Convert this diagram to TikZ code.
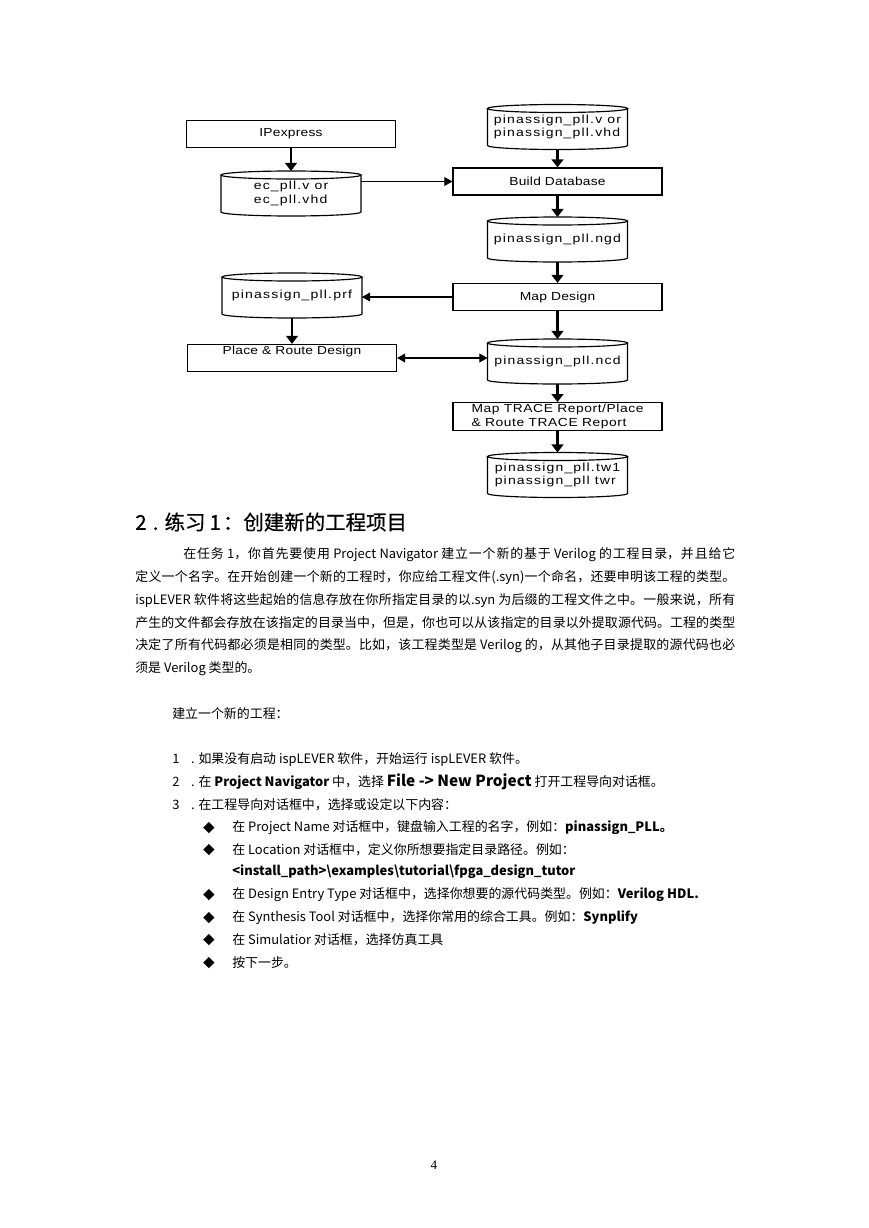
\documentclass[tikz,border=0pt]{standalone}
\usepackage{fontspec}
\setmainfont{Noto Sans CJK SC}
\newfontfamily\headfont{Noto Sans CJK SC}[FakeBold=0.6]
\newfontfamily\diagfont{Liberation Sans}[FakeStretch=1.18, LetterSpace=2]
\newfontfamily\diagmid{Liberation Sans}[FakeStretch=1.18, LetterSpace=5]
\newfontfamily\diagwide{Liberation Sans}[FakeStretch=1.2, LetterSpace=10]
\newfontfamily\pagefont{Liberation Serif}
\usetikzlibrary{arrows.meta, calc}
\newcommand{\pxu}{0.6847pt}
\newcommand{\cylrx}{47.93pt}
\newcommand{\cylry}{2.74pt}

\begin{document}
\begin{tikzpicture}[x=\pxu, y=-\pxu,
    box/.style={draw, line width=0.8pt, minimum width=209*\pxu, minimum height=27*\pxu, inner sep=1pt,
        font=\diagfont\fontsize{8}{10}\selectfont},
    cyl/.style={minimum width=140*\pxu, minimum height=45*\pxu, inner sep=1pt, outer sep=0pt, align=left,
        font=\diagwide\fontsize{8}{9.5}\selectfont},
    flow/.style={->, line width=1.6pt, >={Triangle[length=5.5pt,width=8pt]}},
    link/.style={line width=0.7pt, >={Triangle[length=5.5pt,width=6pt]}},
    head/.style={anchor=west, inner sep=0pt, font=\headfont\fontsize{14}{16}\selectfont},
    body/.style={anchor=west, inner sep=0pt, font=\fontsize{8.85}{15.7}\selectfont},
    bul/.style={inner sep=0pt, font=\fontsize{8}{10}\selectfont}]
    \useasboundingbox (0,0) rectangle (869,1228);

    % flow chart
    \node[box] (ipx) at (291,134) {IPexpress};
    \node[cyl] (vsrc) at (557.5,127) {pinassign\_pll.v or\\pinassign\_pll.vhd};
    \node[cyl] (ecpll) at (291,193.5) {ec\_pll.v or\\ec\_pll.vhd};
    \node[box] (bdb) at (557.5,181.5) {Build Database};
    \node[cyl] (ngd) at (557.5,239.5) {pinassign\_pll.ngd};
    \node[box] (map) at (557.5,297) {Map Design};
    \node[cyl] (prf) at (292,295.5) {pinassign\_pll.prf};
    \node[box, text depth=10pt] (pnr) at (292,358) {Place \& Route Design};
    \node[cyl] (ncd) at (557.5,361.5) {pinassign\_pll.ncd};
    \node[box, align=left, font=\diagmid\fontsize{8}{9.5}\selectfont] (trace) at (557.5,416.5) {Map TRACE Report/Place\\\& Route TRACE Report};
    \node[cyl] (twr) at (557.5,475) {pinassign\_pll.tw1\\pinassign\_pll twr};

    \foreach \n in {vsrc,ecpll,ngd,prf,ncd,twr} {
        \draw[line width=0.8pt] ([yshift=-\cylry]\n.north west) -- ([yshift=\cylry]\n.south west)
            arc[start angle=180, end angle=360, x radius=\cylrx, y radius=\cylry] -- ([yshift=-\cylry]\n.north east);
        \draw[line width=0.8pt] ([yshift=-\cylry]\n.north) ellipse[x radius=\cylrx, y radius=\cylry];
    }

    \draw[flow]
    (ipx) edge (ecpll)
    (vsrc) edge (bdb)
    (bdb) edge (ngd)
    (ngd) edge (map)
    (map) edge (ncd)
    (prf) edge (pnr)
    (ncd) edge (trace)
    (trace) edge (twr);
    \draw[link, ->] (bdb.west -| ecpll.east) -- (bdb.west);
    \draw[link, ->] (map.west) -- (map.west -| prf.east);
    \draw[link, <->] (pnr.east) -- (pnr.east -| ncd.west);

    % text
    \node[head] (title) at (135,522) {2\hspace{0.3em}.\hspace{0.3em}练习\hspace{0.2em}1\hspace{0.1em}：创建新的工程项目};
    \node[body, anchor=north west, text width=410.8pt, align=justify] (para) at (135,547) {\XeTeXlinebreaklocale "zh"\XeTeXlinebreakskip=0pt plus 2pt\hspace*{32.9pt}在任务 1，你首先要使用 Project Navigator 建立一个新的基于 Verilog 的工程目录，并且给它\linebreak
定义一个名字。在开始创建一个新的工程时，你应给工程文件(.syn)一个命名，还要申明该工程的类型。\linebreak
ispLEVER 软件将这些起始的信息存放在你所指定目录的以.syn 为后缀的工程文件之中。一般来说，所有\linebreak
产生的文件都会存放在该指定的目录当中，但是，你也可以从该指定的目录以外提取源代码。工程的类型\linebreak
决定了所有代码都必须是相同的类型。比如，该工程类型是 Verilog 的，从其他子目录提取的源代码也必\linebreak
须是 Verilog 类型的。};
    \node[body] (new) at (172,714) {建立一个新的工程：};

    \node[body] (s1) at (172,760) {1\hspace{0.9em}.\hspace{0.3em}如果没有启动 ispLEVER 软件，开始运行 ispLEVER 软件。};
    \node[body] (s2) at (172,782) {2\hspace{0.9em}.\hspace{0.3em}在 \textbf{Project Navigator} 中，选择 {\fontsize{10.5}{12}\selectfont\bfseries File -> New Project} 打开工程导向对话框。};
    \node[body] (s3) at (172,805) {3\hspace{0.9em}.\hspace{0.3em}在工程导向对话框中，选择或设定以下内容：};
    \foreach \y/\t [count=\i] in {828/{在 Project Name 对话框中，键盘输入工程的名字，例如：\textbf{pinassign\_PLL。}},
        850/{在 Location 对话框中，定义你所想要指定目录路径。例如：},
        895/{在 Design Entry Type 对话框中，选择你想要的源代码类型。例如：\textbf{Verilog HDL.}},
        918/{在 Synthesis Tool 对话框中，选择你常用的综合工具。例如：\textbf{Synplify}},
        940/{在 Simulatior 对话框，选择仿真工具},
        963/{按下一步。}} {
        \node[bul] (d\i) at (209,\y) {◆};
        \node[body] (b\i) at (232,\y) {\t};
    }
    \node[body] (path) at (232,872) {\textbf{<install\_path>\textbackslash examples\textbackslash tutorial\textbackslash fpga\_design\_tutor}};

    \node[font=\pagefont\fontsize{9}{10}\selectfont, inner sep=0pt] (pgno) at (434,1165) {4};
\end{tikzpicture}
\end{document}
